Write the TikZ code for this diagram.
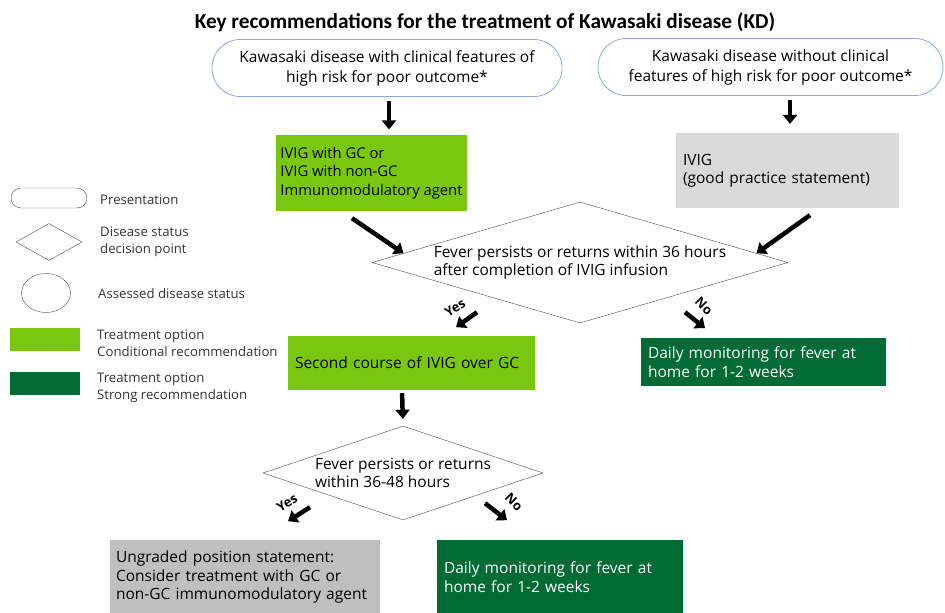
\documentclass[tikz,border=0pt]{standalone}
\usepackage{fontspec}
\setmainfont{Open Sans}
\newfontfamily\titlefont{Carlito}
\usetikzlibrary{shapes.geometric,arrows.meta}
\definecolor{condgreen}{HTML}{7AC712}
\definecolor{stronggreen}{HTML}{006B35}
\definecolor{gpsgray}{HTML}{D9D9D9}
\definecolor{ungradedgray}{HTML}{BFBFBF}
\definecolor{presblue}{HTML}{8EA9D8}

\begin{document}
\begin{tikzpicture}[x=1pt, y=-1pt,
    body/.style={font=\fontsize{15.5}{18.5}\selectfont},
    legtext/.style={anchor=west, align=left, inner sep=0pt, font=\fontsize{13.2}{17}\selectfont, text=black!80},
    pres/.style={font=\fontsize{15.5}{20}\selectfont, draw=presblue, thick, rounded corners=28pt, minimum height=57pt, align=center, inner sep=0pt},
    optbox/.style={body, inner sep=7pt, align=left, anchor=center},
    decision/.style={body, draw=black!70, diamond, align=left, inner sep=0pt},
    bigarrow/.style={line width=4.5pt, -{Triangle[length=9pt,width=14pt]}},
    yesno/.style={font=\bfseries\fontsize{13}{15}\selectfont, inner sep=0pt}]
    \useasboundingbox (0,0) rectangle (945,613);

    %
    \node[font=\titlefont\bfseries\fontsize{21.3}{24}\selectfont] (title) at (485,22)
        {Key recommendations for the treatment of Kawasaki disease (KD)};

    %
    \node[pres, minimum width=350pt] (pres1) at (387,68)
        {Kawasaki disease with clinical features of\\high risk for poor outcome*};
    \node[pres, minimum width=345pt] (pres2) at (770.5,67)
        {Kawasaki disease without clinical\\features of high risk for poor outcome*};

    %
    \node[optbox, fill=condgreen, minimum width=191pt, minimum height=76pt, inner sep=2pt,
          font=\fontsize{14.8}{18.5}\selectfont] (cond1) at (371.5,173)
        {IVIG with GC or\\IVIG with non-GC\\Immunomodulatory agent};
    \node[optbox, fill=gpsgray, minimum width=223pt, minimum height=75pt, text width=209pt] (gps) at (787.5,170.5)
        {IVIG\\(good practice statement)};

    %
    \node[decision, shape aspect=3.44, minimum width=416pt, minimum height=121pt] (dec1) at (580,262.5)
        {Fever persists or returns within 36 hours\\after completion of IVIG infusion};

    %
    \node[optbox, fill=condgreen, minimum width=247pt, minimum height=54pt, text width=233pt] (cond2) at (411.5,363)
        {Second course of IVIG over GC};
    \node[optbox, fill=stronggreen, text=white, minimum width=245pt, minimum height=48pt, text width=231pt] (strong1) at (763.5,362)
        {Daily monitoring for fever at\\home for 1-2 weeks};

    %
    \node[decision, shape aspect=2.98, minimum width=280pt, minimum height=94pt] (dec2) at (403,473)
        {Fever persists or returns\\within 36-48 hours};

    %
    \node[optbox, fill=ungradedgray, minimum width=270pt, minimum height=74pt, text width=258pt, inner sep=6pt] (ungraded) at (245,577)
        {Ungraded position statement:\\Consider treatment with GC or\\non-GC immunomodulatory agent};
    \node[optbox, fill=stronggreen, text=white, minimum width=246pt, minimum height=74pt, text width=232pt] (strong2) at (560,577)
        {Daily monitoring for fever at\\home for 1-2 weeks};

    %
    \draw[bigarrow, shorten <=4pt, shorten >=6pt] (pres1.south) ++(2,0) -- ++(0,38.5);
    \draw[bigarrow, shorten <=4pt, shorten >=5pt] (gps.north |- pres2.south) ++(2.5,0) -- ++(0,33);
    \draw[bigarrow] (cond1.south) ++(-19.5,7) -- (dec1.177);
    \draw[bigarrow] (gps.south) ++(22.5,7) -- (dec1.3);

    %
    \draw[bigarrow] (dec1.south) ++(-103,-11) -- ++(-21,15);
    \node[yesno, rotate=32] (yes1) at (455,308) {Yes};
    \draw[bigarrow] (dec1.south) ++(105,-11) -- ++(20,16);
    \node[yesno, rotate=-45] (no1) at (704,306) {No};

    %
    \draw[bigarrow, shorten <=3pt, shorten >=7pt] (cond2.south) ++(-9.5,0) -- (dec2.north);

    %
    \draw[bigarrow] (dec2.south) ++(-93,-13) -- ++(-22,14);
    \node[yesno, rotate=32] (yes2) at (287,503) {Yes};
    \draw[bigarrow] (dec2.south) ++(82,-17) -- ++(22,17);
    \node[yesno, rotate=-45] (no2) at (514,502) {No};

    %
    \node[draw=black!70, rounded corners=10pt, minimum width=76pt, minimum height=20pt, inner sep=0pt] (legpres) at (49,198) {};
    \node[legtext] (legprestext) at (100,200) {Presentation};
    \node[draw=black!70, diamond, shape aspect=1.8, minimum width=66pt, minimum height=37pt, inner sep=0pt] (legdec) at (49,242) {};
    \node[legtext] (legdectext) at (100,242) {Disease status\\decision point};
    \node[draw=black!70, ellipse, minimum width=49pt, minimum height=39pt, inner sep=0pt] (legstatus) at (46,293) {};
    \node[legtext] (legstatustext) at (98,294) {Assessed disease status};
    \node[fill=condgreen, minimum width=70pt, minimum height=23pt, inner sep=0pt] (legcond) at (45,339.5) {};
    \node[legtext] (legcondtext) at (97,343.5) {Treatment option\\Conditional recommendation};
    \node[fill=stronggreen, minimum width=70pt, minimum height=23pt, inner sep=0pt] (legstrong) at (45,383.5) {};
    \node[legtext] (legstrongtext) at (97,387.5) {Treatment option\\Strong recommendation};

\end{tikzpicture}
\end{document}
